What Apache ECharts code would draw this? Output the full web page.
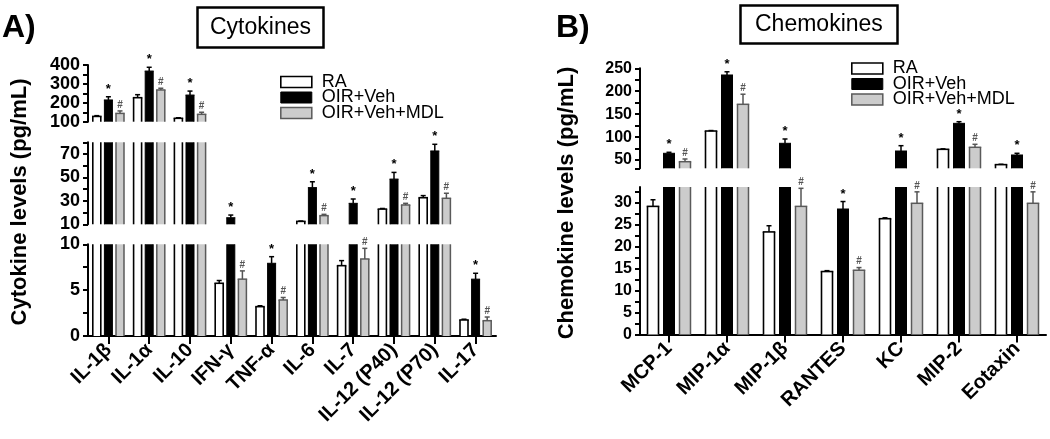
<!DOCTYPE html>
<html>
<head>
<meta charset="utf-8">
<script src="https://cdn.jsdelivr.net/npm/echarts@6/dist/echarts.min.js"></script>
<style>html,body{margin:0;padding:0;background:#fff;}#c{width:1050px;height:439px;}</style>
</head>
<body>
<div id="c"></div>
<script>
// ---------- DATA ----------
const seriesNames = ['RA', 'OIR+Veh', 'OIR+Veh+MDL'];

const catsA = ['IL-1β', 'IL-1α', 'IL-10', 'IFN-γ', 'TNF-α', 'IL-6', 'IL-7', 'IL-12 (P40)', 'IL-12 (P70)', 'IL-17'];
const raA     = [128, 227, 118, 5.75, 3.2, 12.5, 7.67, 23, 32.7, 1.75];
const raErrA  = [4, 16, 3, 0.3, 0.1, 0.3, 0.55, 0.5, 1.8, 0.08];
const oirA    = [215, 368, 241, 15.6, 7.93, 41.3, 27.9, 48.6, 72.6, 6.2];
const oirErrA = [17, 20, 21, 2.3, 0.72, 5, 3.7, 5.7, 5.7, 0.64];
const mdlA    = [144, 268, 139, 6.2, 3.93, 17.4, 8.4, 26.5, 32.2, 1.67];
const mdlErrA = [13, 9, 11, 0.9, 0.27, 1.1, 1.16, 1.4, 4.3, 0.4];

const catsB = ['MCP-1', 'MIP-1α', 'MIP-1β', 'RANTES', 'KC', 'MIP-2', 'Eotaxin'];
const raB     = [29.1, 113.3, 23.3, 14.3, 26.3, 73.4, 40];
const raErrB  = [1.5, 1, 1.4, 0.2, 0.2, 1, 0.8];
const oirB    = [64.7, 235.4, 86.5, 28.5, 69.7, 130, 61];
const oirErrB = [2.2, 7, 9.4, 1.7, 11.6, 3.6, 3.7];
const mdlB    = [46.4, 171.5, 29.1, 14.6, 29.8, 77.8, 29.8];
const mdlErrB = [5.9, 22, 4.1, 0.6, 2.6, 6.5, 2.6];

// axis segments (broken axes) and ticks
const segA = [[100, 400], [10, 80], [0, 10]];
const ticksA = [[100, 150, 200, 250, 300, 350, 400], [10, 20, 30, 40, 50, 60, 70, 80], [0, 2.5, 5, 7.5, 10]];
const labelsA = [[100, 200, 300, 400], [10, 30, 50, 70], [0, 5, 10]];
const segB = [[32, 250], [0, 33.5]];
const ticksB = [[32, 50, 75, 100, 125, 150, 175, 200, 225, 250], [0, 2.5, 5, 7.5, 10, 12.5, 15, 17.5, 20, 22.5, 25, 27.5, 30, 32.5]];
const labelsB = [[50, 100, 150, 200, 250], [0, 5, 10, 15, 20, 25, 30]];

// ---------- LAYOUT / STYLE ----------
const FONT = '"Liberation Sans", Arial, sans-serif';
const gridLayoutA = [{top: 65, height: 56.7}, {top: 142.3, height: 82}, {top: 244.3, height: 91.7}];
const gridLayoutB = [{top: 68.3, height: 100}, {top: 187, height: 147.5}];
const panelA = {left: 88, width: 408, barWidth: 8, gapPx: 3.6, tickFont: 18, catFont: 20};
const panelB = {left: 640, width: 406, barWidth: 11, gapPx: 5, tickFont: 16, catFont: 20};

const fills = ['#ffffff', '#000000', '#cccccc'];
const edgeColors = ['#000000', '#000000', '#5a5a5a'];
const edgeWidths = [1.6, 1, 1.5];
const errColors = ['#000000', '#000000', '#555555'];
const marks = ['', '*', '#'];
const markFonts = ['', 'bold 13px ', 'bold 10px '];

const grids = [], xAxes = [], yAxes = [], series = [];

function addPanel(panel, layouts, segs, ticks, labels, cats, groups) {
  layouts.forEach((lay, si) => {
    const gi = grids.length;
    const isBottom = si === layouts.length - 1;
    grids.push({left: panel.left, width: panel.width, top: lay.top, height: lay.height, containLabel: false, outerBoundsMode: 'none'});
    xAxes.push({
      type: 'category', gridIndex: gi, data: cats, show: isBottom,
      axisLine: {show: true, lineStyle: {color: '#000', width: 2}},
      axisTick: {show: true, alignWithLabel: true, length: 8, lineStyle: {color: '#000', width: 2}},
      axisLabel: {show: true, rotate: 45, margin: 11, interval: 0, color: '#000', fontFamily: FONT, fontWeight: 'bold', fontSize: panel.catFont},
      splitLine: {show: false}
    });
    yAxes.push({
      type: 'value', gridIndex: gi, min: segs[si][0], max: segs[si][1],
      axisLine: {show: true, lineStyle: {color: '#000', width: 2}},
      axisTick: {show: true, length: 5, lineStyle: {color: '#000', width: 2}, customValues: ticks[si]},
      axisLabel: {show: true, margin: 8, color: '#000', fontFamily: FONT, fontWeight: 'bold', fontSize: panel.tickFont, customValues: labels[si]},
      splitLine: {show: false}
    });
    const [smin, smax] = segs[si];
    groups.forEach((g, k) => {
      // bar fill (clipped to the segment)
      series.push({
        type: 'bar', name: seriesNames[k], xAxisIndex: gi, yAxisIndex: gi,
        data: g.mean, barWidth: panel.barWidth, barGap: (panel.gapPx / panel.barWidth * 100) + '%',
        itemStyle: {color: fills[k], borderWidth: 0}, clip: true, silent: true, z: 2
      });
      const offset = (k - 1) * (panel.barWidth + panel.gapPx);
      const hw = panel.barWidth / 2;
      // bar edges, error bar and significance mark
      series.push({
        type: 'custom', xAxisIndex: gi, yAxisIndex: gi, silent: true, z: 5,
        data: g.mean.map((v, i) => [i, v, g.err[i]]),
        encode: {x: 0, y: 1},
        renderItem: function (params, api) {
          const c = api.value(0), v = api.value(1), e = api.value(2);
          if (!(v > smin)) return null;
          const ch = [];
          const xc = api.coord([c, smin])[0] + offset;
          const yLo = api.coord([c, smin])[1];
          const yHi = api.coord([c, Math.min(v, smax)])[1];
          const ec = edgeColors[k], ew = edgeWidths[k];
          ch.push({type: 'line', shape: {x1: xc - hw, y1: yLo, x2: xc - hw, y2: yHi}, style: {stroke: ec, lineWidth: ew}});
          ch.push({type: 'line', shape: {x1: xc + hw, y1: yLo, x2: xc + hw, y2: yHi}, style: {stroke: ec, lineWidth: ew}});
          if (v <= smax) {
            ch.push({type: 'line', shape: {x1: xc - hw - ew / 2, y1: yHi, x2: xc + hw + ew / 2, y2: yHi}, style: {stroke: ec, lineWidth: ew}});
            const p1 = api.coord([c, v + e]);
            const col = errColors[k];
            ch.push({type: 'line', shape: {x1: xc, y1: yHi, x2: xc, y2: p1[1]}, style: {stroke: col, lineWidth: 1.5}});
            ch.push({type: 'line', shape: {x1: xc - 2.5, y1: p1[1], x2: xc + 2.5, y2: p1[1]}, style: {stroke: col, lineWidth: 1.5}});
            if (marks[k]) {
              ch.push({type: 'text', x: xc, y: p1[1] - 1, style: {text: marks[k], align: 'center', verticalAlign: 'bottom', fill: col, font: markFonts[k] + FONT}});
            }
          }
          return {type: 'group', children: ch};
        }
      });
    });
  });
}

addPanel(panelA, gridLayoutA, segA, ticksA, labelsA, catsA, [
  {mean: raA, err: raErrA}, {mean: oirA, err: oirErrA}, {mean: mdlA, err: mdlErrA}
]);
addPanel(panelB, gridLayoutB, segB, ticksB, labelsB, catsB, [
  {mean: raB, err: raErrB}, {mean: oirB, err: oirErrB}, {mean: mdlB, err: mdlErrB}
]);

const legendData = seriesNames.map((n, k) => ({name: n, itemStyle: {color: fills[k], borderColor: edgeColors[k], borderWidth: edgeWidths[k]}}));
const legendCommon = {
  orient: 'vertical', padding: 0, icon: 'rect', itemWidth: 31, itemHeight: 11, itemGap: -2.5,
  selectedMode: false, data: legendData,
  textStyle: {fontFamily: FONT, fontSize: 18, color: '#000', padding: [0, 0, 0, 5]}
};

const chart = echarts.init(document.getElementById('c'), null, {renderer: 'canvas'});
chart.setOption({
  animation: false,
  backgroundColor: '#ffffff',
  title: [
    {text: 'A)', left: 2, top: 12, padding: 0, textStyle: {fontFamily: FONT, fontSize: 32, fontWeight: 'bold', color: '#000'}},
    {text: 'Cytokines', left: 197, top: 7, padding: [9, 13], borderWidth: 2.5, borderColor: '#000',
      textStyle: {fontFamily: FONT, fontSize: 23, fontWeight: 'normal', color: '#000'}},
    {text: 'B)', left: 556, top: 12, padding: 0, textStyle: {fontFamily: FONT, fontSize: 32, fontWeight: 'bold', color: '#000'}},
    {text: 'Chemokines', left: 740, top: 5, padding: [8, 15], borderWidth: 2.5, borderColor: '#000',
      textStyle: {fontFamily: FONT, fontSize: 23, fontWeight: 'normal', color: '#000'}}
  ],
  legend: [
    Object.assign({}, legendCommon, {left: 280, top: 73}),
    Object.assign({}, legendCommon, {left: 851, top: 59.5})
  ],
  graphic: [
    {type: 'text', x: 20, y: 202, rotation: Math.PI / 2,
      style: {text: 'Cytokine levels (pg/mL)', align: 'center', verticalAlign: 'middle', fill: '#000', font: 'bold 22px ' + FONT}},
    {type: 'text', x: 567, y: 203, rotation: Math.PI / 2,
      style: {text: 'Chemokine levels (pg/mL)', align: 'center', verticalAlign: 'middle', fill: '#000', font: 'bold 22px ' + FONT}}
  ],
  grid: grids,
  xAxis: xAxes,
  yAxis: yAxes,
  series: series
});
</script>
</body>
</html>
